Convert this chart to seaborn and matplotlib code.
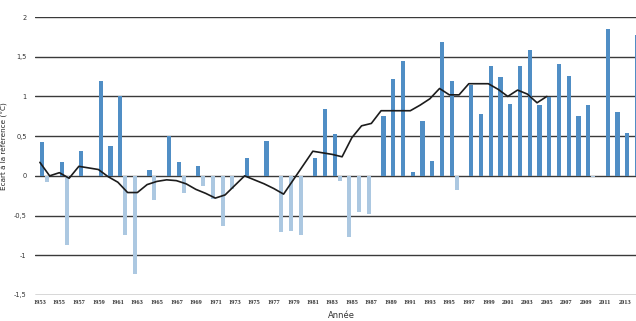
import numpy as np
import pandas as pd
import matplotlib
matplotlib.use("Agg")
import matplotlib.pyplot as plt
import seaborn as sns

# Annual temperature anomaly relative to the reference period (°C)
years = list(range(1953, 2015))
anomalies = [
    0.43, -0.08, 0.18, -0.87, 0.31, 0.00, 1.20, 0.38, 1.00, -0.74,
    -1.24, 0.07, -0.31, 0.50, 0.18, -0.21, 0.12, -0.13, -0.29, -0.63,
    -0.16, 0.23, 0.00, 0.44, 0.00, -0.71, -0.69, -0.74, 0.22, 0.84,
    0.53, -0.06, -0.77, -0.45, -0.48, 0.75, 1.22, 1.44, 0.05, 0.69,
    0.19, 1.69, 1.19, -0.18, 1.15, 0.78, 1.38, 1.25, 0.91, 1.38,
    1.58, 0.89, 0.99, 1.41, 1.26, 0.75, 0.89, -0.02, 1.85, 0.81,
    0.54, 1.77,
]

# Smoothed trend (moving average), 1953-2005
trend_years = list(range(1953, 2006))
trend = [
    0.17, 0.00, 0.04, -0.03, 0.12, 0.10, 0.08, -0.01, -0.08, -0.21,
    -0.21, -0.11, -0.07, -0.05, -0.06, -0.10, -0.17, -0.22, -0.28, -0.24,
    -0.12, 0.00, -0.05, -0.10, -0.16, -0.23, -0.05, 0.13, 0.31, 0.29,
    0.27, 0.24, 0.48, 0.63, 0.66, 0.82, 0.82, 0.82, 0.82, 0.89,
    0.97, 1.10, 1.02, 1.02, 1.16, 1.16, 1.16, 1.09, 1.00, 1.08,
    1.03, 0.92, 1.00,
]

y_ticks = [-1.5, -1.0, -0.5, 0.0, 0.5, 1.0, 1.5, 2.0]
y_tick_labels = ["-1,5", "-1", "-0,5", "0", "0,5", "1", "1,5", "2"]
x_tick_years = list(range(1953, 2014, 2))

# Split into a "below" and an "above" series, shown side by side per year
vals = np.array(anomalies)
df = pd.concat([
    pd.DataFrame({"year": years, "serie": "neg", "valeur": np.minimum(vals, 0)}),
    pd.DataFrame({"year": years, "serie": "pos", "valeur": np.maximum(vals, 0)}),
])

sns.set_style("white")
plt.rcParams["font.family"] = ["DejaVu Sans"]

W, H = 636, 321
fig = plt.figure(figsize=(W / 100, H / 100), dpi=100)
ax = fig.add_axes([35 / W, 1 - 295 / H, (636 - 35) / W, (295 - 17) / H])

sns.barplot(
    data=df, x="year", y="valeur", hue="serie", hue_order=["neg", "pos"],
    palette={"neg": "#a3c9ea", "pos": "#3d8fd8"},
    native_scale=True, width=1.0, gap=0.15, dodge=True,
    errorbar=None, legend=False, linewidth=0, ax=ax, zorder=3,
)
sns.lineplot(x=trend_years, y=trend, color="#1c1c1c", linewidth=1.2, ax=ax, zorder=4)

ax.set_xlim(1952.5, 2014.15)
ax.set_ylim(-1.5, 2.0)
for v in y_ticks:
    ax.axhline(v, color="#3a3a3a", linewidth=1.0, zorder=2)

for s in ax.spines.values():
    s.set_visible(False)

ax.set_yticks(y_ticks)
ax.set_yticklabels(y_tick_labels, fontsize=4.8, color="#333333")
ax.set_xticks(x_tick_years)
ax.set_xticklabels([str(y) for y in x_tick_years], fontsize=4.6,
                   family="Liberation Serif", fontweight="bold", color="#333333")
ax.tick_params(axis="y", length=0, pad=6)
ax.tick_params(axis="x", length=0, pad=3.5)

ax.set_xlabel("")
ax.set_ylabel("Écart à la référence (°C)", fontsize=5.2, color="#222222")
ax.yaxis.set_label_coords(-0.045, 0.535)

fig.text(341 / W, 1 / H, "Année", ha="center", va="bottom", fontsize=6, color="#333333")

fig.savefig("out.png", dpi=100, facecolor="white")
